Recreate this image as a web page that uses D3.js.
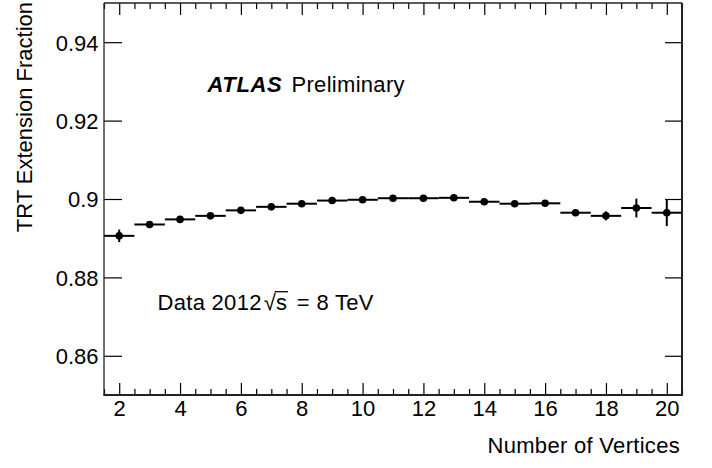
<!DOCTYPE html>
<html>
<head>
<meta charset="utf-8">
<script src="https://cdn.jsdelivr.net/npm/d3@7"></script>
<style>
  html, body { margin: 0; padding: 0; background: #fff; }
  svg { display: block; font-family: "Liberation Sans", Arial, Helvetica, sans-serif; }
</style>
</head>
<body>
<svg id="chart" width="712" height="468"></svg>
<script>
// ---- data ----
const vertices = [2, 3, 4, 5, 6, 7, 8, 9, 10, 11, 12, 13, 14, 15, 16, 17, 18, 19, 20];
const fraction = [0.8906, 0.8935, 0.8948, 0.8957, 0.8971, 0.8980, 0.8988, 0.8996, 0.8998, 0.9002,
                  0.9002, 0.9003, 0.8993, 0.8988, 0.8989, 0.8965, 0.8957, 0.8977, 0.8965];
const fracError = [0.0016, 0.0005, 0.0004, 0.0004, 0.0004, 0.0004, 0.0004, 0.0004, 0.0004, 0.0004,
                   0.0004, 0.0004, 0.0005, 0.0005, 0.0006, 0.0007, 0.00115, 0.0024, 0.0034];
const xMajorTicks = [2, 4, 6, 8, 10, 12, 14, 16, 18, 20];
const xMinorTicks = d3.range(1.5, 20.51, 0.5);
const yTicks = [0.86, 0.88, 0.9, 0.92, 0.94];
const yTickLabels = ["0.86", "0.88", "0.9", "0.92", "0.94"];
const xDomain = [1.5, 20.5];
const yDomain = [0.85, 0.95];
const xTitle = "Number of Vertices";
const yTitle = "TRT Extension Fraction";

// ---- layout ----
const L = 104, R = 682, T = 3, B = 395;
const FONT = "Liberation Sans, Arial, sans-serif";
const svg = d3.select("#chart");
const x = d3.scaleLinear().domain(xDomain).range([L, R]);
const y = d3.scaleLinear().domain(yDomain).range([B, T]);

function styleTicks(g) {
  g.select(".domain").remove();
  g.selectAll("line").attr("stroke", "#000").attr("stroke-width", 1.2);
}

// bottom axis (major)
const gB = svg.append("g").attr("transform", `translate(0,${B})`)
  .call(d3.axisBottom(x).tickValues(xMajorTicks).tickSizeInner(-12).tickSizeOuter(0).tickFormat(d3.format("d")));
styleTicks(gB);
gB.selectAll("text").attr("font-size", 22).attr("fill", "#000").attr("font-family", FONT)
  .attr("y", 21).attr("dy", "0");
// bottom minor
const gBm = svg.append("g").attr("transform", `translate(0,${B})`)
  .call(d3.axisBottom(x).tickValues(xMinorTicks.filter(v => v % 2 !== 0)).tickSizeInner(-6).tickSizeOuter(0).tickFormat(""));
styleTicks(gBm);

// top axis
const gT = svg.append("g").attr("transform", `translate(0,${T})`)
  .call(d3.axisTop(x).tickValues(xMajorTicks).tickSizeInner(-12).tickSizeOuter(0).tickFormat(""));
styleTicks(gT);
const gTm = svg.append("g").attr("transform", `translate(0,${T})`)
  .call(d3.axisTop(x).tickValues(xMinorTicks.filter(v => v % 2 !== 0)).tickSizeInner(-6).tickSizeOuter(0).tickFormat(""));
styleTicks(gTm);

// left axis
const gL = svg.append("g").attr("transform", `translate(${L},0)`)
  .call(d3.axisLeft(y).tickValues(yTicks).tickSizeInner(-18).tickSizeOuter(0)
    .tickFormat((d, i) => yTickLabels[i]));
styleTicks(gL);
gL.selectAll("text").attr("font-size", 22).attr("fill", "#000").attr("x", -5.5).attr("dy", "0.36em")
  .attr("font-family", FONT);

// right axis
const gR = svg.append("g").attr("transform", `translate(${R},0)`)
  .call(d3.axisRight(y).tickValues(yTicks).tickSizeInner(-17).tickSizeOuter(0).tickFormat(""));
styleTicks(gR);

// frame
svg.append("line").attr("x1", L).attr("x2", L).attr("y1", T).attr("y2", B).attr("stroke", "#222").attr("stroke-width", 1.3);
svg.append("line").attr("x1", L).attr("x2", R).attr("y1", T).attr("y2", T).attr("stroke", "#222").attr("stroke-width", 1.3);
svg.append("line").attr("x1", R).attr("x2", R).attr("y1", T).attr("y2", B + 1).attr("stroke", "#222").attr("stroke-width", 2);
svg.append("line").attr("x1", L - 0.6).attr("x2", R + 1).attr("y1", B).attr("y2", B).attr("stroke", "#222").attr("stroke-width", 2);

// data
const pts = vertices.map((v, i) => ({ v, f: fraction[i], e: fracError[i] }));
const gD = svg.append("g");
gD.selectAll("line.h").data(pts).join("line").attr("class", "h")
  .attr("x1", d => x(d.v - 0.5)).attr("x2", d => x(d.v + 0.5))
  .attr("y1", d => y(d.f)).attr("y2", d => y(d.f))
  .attr("stroke", "#000").attr("stroke-width", 2);
gD.selectAll("line.v").data(pts).join("line").attr("class", "v")
  .attr("x1", d => x(d.v)).attr("x2", d => x(d.v))
  .attr("y1", d => y(d.f - d.e)).attr("y2", d => y(d.f + d.e))
  .attr("stroke", "#000").attr("stroke-width", 2);
gD.selectAll("circle").data(pts).join("circle")
  .attr("cx", d => x(d.v)).attr("cy", d => y(d.f)).attr("r", 3.8).attr("fill", "#000");

// axis titles
svg.append("text").attr("x", 680).attr("y", 452.5).attr("text-anchor", "end")
  .attr("font-size", 22).attr("letter-spacing", 0.3).attr("fill", "#000").text(xTitle);
svg.append("text").attr("transform", "translate(31.5,2) rotate(-90)").attr("text-anchor", "end")
  .attr("font-size", 22).attr("fill", "#000").text(yTitle);

// labels
svg.append("text").attr("x", 207.5).attr("y", 91.7).attr("font-size", 22).attr("letter-spacing", 0.6)
  .attr("font-weight", "bold").attr("font-style", "italic").attr("fill", "#000").text("ATLAS");
svg.append("text").attr("x", 291.5).attr("y", 91.7).attr("font-size", 22).attr("letter-spacing", 0.3)
  .attr("fill", "#000").text("Preliminary");

const dataText = svg.append("text").attr("x", 157.5).attr("y", 309.5).attr("font-size", 22)
  .attr("letter-spacing", 0.3).attr("fill", "#000");
dataText.append("tspan").text("Data 2012");
dataText.append("tspan").attr("dx", 2).text("√");
dataText.append("tspan").text("s");
dataText.append("tspan").attr("dx", 3).text(" = 8 TeV");
// overline over "s" of sqrt
const sIdx = "Data 2012√".length;
const ext = dataText.node().getExtentOfChar(sIdx);
const extR = dataText.node().getExtentOfChar(sIdx - 1);
svg.append("line").attr("x1", extR.x + extR.width - 1.5).attr("x2", ext.x + ext.width + 0.5)
  .attr("y1", extR.y + 2.2).attr("y2", extR.y + 2.2).attr("stroke", "#000").attr("stroke-width", 1.3);
</script>
</body>
</html>
